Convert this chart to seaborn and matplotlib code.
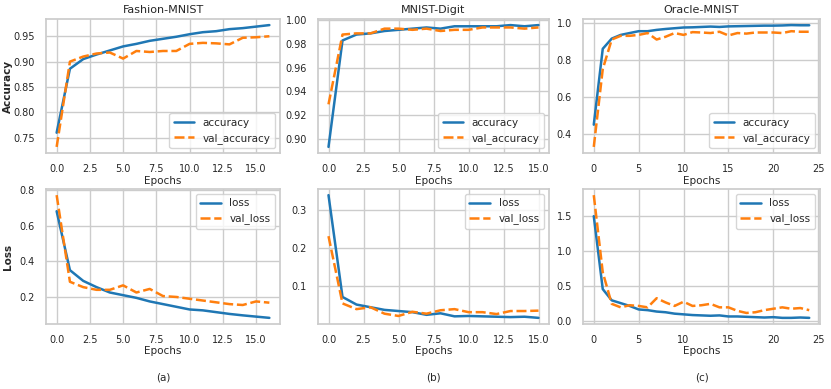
import numpy as np
import pandas as pd
import matplotlib
matplotlib.use("Agg")
import matplotlib.pyplot as plt
import seaborn as sns

# Fashion-MNIST (17 epochs)
fashion_acc = [0.760, 0.886, 0.905, 0.914, 0.922, 0.930, 0.935, 0.941, 0.945, 0.949,
               0.954, 0.958, 0.960, 0.964, 0.966, 0.969, 0.972]
fashion_val_acc = [0.732, 0.900, 0.910, 0.916, 0.918, 0.906, 0.921, 0.919, 0.921, 0.921,
                   0.935, 0.937, 0.936, 0.934, 0.947, 0.948, 0.950]
fashion_loss = [0.68, 0.35, 0.29, 0.255, 0.225, 0.21, 0.195, 0.175, 0.16, 0.145,
                0.13, 0.125, 0.115, 0.105, 0.097, 0.090, 0.083]
fashion_val_loss = [0.77, 0.285, 0.255, 0.24, 0.24, 0.265, 0.225, 0.245, 0.205, 0.2,
                    0.19, 0.18, 0.17, 0.16, 0.155, 0.175, 0.168]

# MNIST-Digit (16 epochs)
digit_acc = [0.893, 0.983, 0.988, 0.989, 0.991, 0.992, 0.993, 0.994, 0.993, 0.995,
             0.995, 0.995, 0.995, 0.996, 0.995, 0.996]
digit_val_acc = [0.929, 0.988, 0.989, 0.989, 0.993, 0.993, 0.992, 0.993, 0.991, 0.992,
                 0.992, 0.994, 0.994, 0.994, 0.993, 0.994]
digit_loss = [0.34, 0.072, 0.052, 0.045, 0.038, 0.035, 0.032, 0.025, 0.029, 0.021,
              0.022, 0.021, 0.020, 0.019, 0.020, 0.017]
digit_val_loss = [0.232, 0.055, 0.040, 0.045, 0.028, 0.022, 0.033, 0.028, 0.037, 0.040,
                  0.032, 0.032, 0.027, 0.035, 0.035, 0.036]

# Oracle-MNIST (25 epochs)
oracle_acc = [0.45, 0.86, 0.915, 0.935, 0.945, 0.955, 0.955, 0.962, 0.967, 0.971,
              0.975, 0.976, 0.978, 0.980, 0.978, 0.981, 0.982, 0.983, 0.984, 0.985,
              0.985, 0.986, 0.988, 0.987, 0.987]
oracle_val_acc = [0.33, 0.75, 0.91, 0.93, 0.93, 0.935, 0.945, 0.91, 0.925, 0.945,
                  0.935, 0.95, 0.948, 0.945, 0.952, 0.932, 0.945, 0.942, 0.948, 0.948,
                  0.948, 0.945, 0.955, 0.952, 0.952]
oracle_loss = [1.5, 0.46, 0.30, 0.26, 0.22, 0.17, 0.16, 0.14, 0.13, 0.11,
               0.10, 0.09, 0.085, 0.08, 0.085, 0.07, 0.07, 0.065, 0.06, 0.055,
               0.06, 0.05, 0.05, 0.055, 0.05]
oracle_val_loss = [1.8, 0.70, 0.25, 0.20, 0.23, 0.22, 0.20, 0.33, 0.27, 0.22,
                   0.28, 0.22, 0.23, 0.25, 0.20, 0.20, 0.15, 0.12, 0.13, 0.16,
                   0.18, 0.20, 0.18, 0.19, 0.16]

titles = ["Fashion-MNIST", "MNIST-Digit", "Oracle-MNIST"]
panel_labels = ["(a)", "(b)", "(c)"]
histories = [
    (fashion_acc, fashion_val_acc, fashion_loss, fashion_val_loss),
    (digit_acc, digit_val_acc, digit_loss, digit_val_loss),
    (oracle_acc, oracle_val_acc, oracle_loss, oracle_val_loss),
]

sns.set_theme(style="whitegrid")
plt.rcParams.update({
    "font.size": 7.5,
    "axes.titlesize": 8,
    "axes.labelsize": 7.5,
    "xtick.labelsize": 7,
    "ytick.labelsize": 7,
    "legend.fontsize": 7.5,
    "axes.edgecolor": "#cccccc",
})

fig = plt.figure(figsize=(8.31, 3.89), dpi=100)
W, H = 831, 389
lefts = [46, 318, 583]
rights = [280, 549, 820]
top_row = (19, 153)
bot_row = (189, 324)

palette = ["#1f77b4", "#ff7f0e"]

for i, (acc, val_acc, loss, val_loss) in enumerate(histories):
    l, r = lefts[i], rights[i]
    ax_top = fig.add_axes([l / W, 1 - top_row[1] / H, (r - l) / W, (top_row[1] - top_row[0]) / H])
    ax_bot = fig.add_axes([l / W, 1 - bot_row[1] / H, (r - l) / W, (bot_row[1] - bot_row[0]) / H])

    ep = np.arange(len(acc))
    df_acc = pd.DataFrame({"Epochs": np.concatenate([ep, ep]),
                           "value": acc + val_acc,
                           "metric": ["accuracy"] * len(ep) + ["val_accuracy"] * len(ep)})
    df_loss = pd.DataFrame({"Epochs": np.concatenate([ep, ep]),
                            "value": loss + val_loss,
                            "metric": ["loss"] * len(ep) + ["val_loss"] * len(ep)})

    sns.lineplot(data=df_acc, x="Epochs", y="value", hue="metric", style="metric",
                 palette=palette, linewidth=1.8, ax=ax_top)
    sns.lineplot(data=df_loss, x="Epochs", y="value", hue="metric", style="metric",
                 palette=palette, linewidth=1.8, ax=ax_bot)

    ax_top.set_title(titles[i], pad=4)
    ax_top.legend(loc="lower right", title=None)
    ax_bot.legend(loc="upper right", title=None)
    for ax in (ax_top, ax_bot):
        ax.tick_params(pad=2)
        ax.set_xlabel("Epochs", labelpad=1)
        ax.set_ylabel("")
        if i < 2:
            ax.set_xticks([0, 2.5, 5, 7.5, 10, 12.5, 15])
            ax.set_xticklabels(["0.0", "2.5", "5.0", "7.5", "10.0", "12.5", "15.0"])
    if i == 0:
        ax_top.set_ylabel("Accuracy", fontweight="bold", fontsize=7.5)
        ax_bot.set_ylabel("Loss", fontweight="bold", fontsize=7.5)
        ax_top.yaxis.set_label_coords(-0.14, 0.5)
        ax_bot.yaxis.set_label_coords(-0.14, 0.5)
        ax_top.set_yticks([0.75, 0.80, 0.85, 0.90, 0.95])
        ax_bot.set_yticks([0.2, 0.4, 0.6, 0.8])
    fig.text((l + r) / 2 / W, 1 - 378 / H, panel_labels[i], ha="center", va="center", fontsize=7.5)

fig.savefig("out.png", dpi=100)
